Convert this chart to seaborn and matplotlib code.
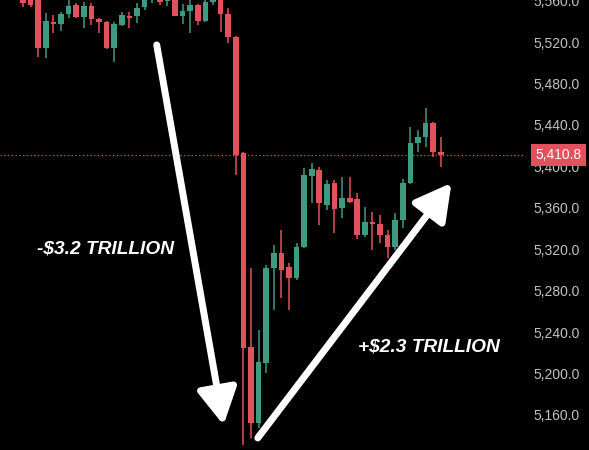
import matplotlib
matplotlib.use('Agg')
import matplotlib.pyplot as plt
import matplotlib.ticker as mticker
import numpy as np
import pandas as pd
import seaborn as sns

# OHLC candles (S&P 500 futures style prices)
opens = [5575.0, 5563.5, 5562.0, 5514.3, 5539.7, 5537.4, 5547.1, 5555.8, 5544.2, 5554.8,
         5542.3, 5539.4, 5514.3, 5536.5, 5545.2, 5545.2, 5553.8, 5563.5, 5563.5, 5559.6,
         5563.5, 5545.2, 5550.0, 5555.8, 5540.3, 5558.7, 5561.6, 5547.1, 5524.9, 5412.9,
         5225.6, 5152.3, 5210.2, 5301.9, 5316.4, 5302.9, 5292.2, 5322.2, 5390.7, 5396.5,
         5362.7, 5384.0, 5359.8, 5369.5, 5368.5, 5333.8, 5346.3, 5344.4, 5333.8, 5322.2,
         5348.2, 5384.0, 5422.6, 5428.4, 5441.9, 5413.9]
highs = [5580.0, 5568.0, 5565.0, 5548.0, 5546.1, 5549.0, 5560.6, 5557.7, 5558.7, 5557.7,
         5542.8, 5540.3, 5539.4, 5549.0, 5549.0, 5557.7, 5565.4, 5579.9, 5568.3, 5565.4,
         5565.4, 5556.7, 5560.6, 5556.7, 5560.6, 5564.5, 5563.5, 5552.9, 5525.5, 5413.9,
         5301.9, 5242.1, 5304.8, 5324.1, 5338.6, 5306.7, 5326.0, 5398.4, 5403.3, 5399.4,
         5386.8, 5386.8, 5389.7, 5389.7, 5374.3, 5360.8, 5356.0, 5353.1, 5338.6, 5355.0,
         5387.8, 5438.0, 5435.1, 5456.3, 5442.5, 5428.4]
lows = [5554.0, 5554.0, 5505.6, 5504.6, 5528.7, 5530.7, 5543.2, 5543.2, 5533.6, 5536.5,
        5528.7, 5513.5, 5500.8, 5535.5, 5533.6, 5538.4, 5551.0, 5557.7, 5555.8, 5554.8,
        5545.0, 5537.4, 5528.7, 5536.5, 5539.4, 5555.8, 5529.7, 5519.1, 5391.7, 5131.0,
        5137.8, 5147.5, 5200.5, 5261.4, 5272.9, 5261.4, 5290.3, 5321.5, 5364.6, 5343.4,
        5357.9, 5335.7, 5350.2, 5364.6, 5329.9, 5331.8, 5319.3, 5326.0, 5311.6, 5319.3,
        5340.5, 5383.0, 5413.9, 5418.7, 5409.0, 5399.4]
closes = [5558.0, 5555.8, 5514.3, 5540.3, 5537.4, 5547.1, 5554.8, 5544.2, 5554.8, 5542.3,
          5539.4, 5514.3, 5537.4, 5546.1, 5543.2, 5552.9, 5562.5, 5575.1, 5558.7, 5562.5,
          5545.2, 5550.0, 5555.8, 5540.3, 5558.7, 5561.6, 5547.1, 5524.9, 5411.0, 5224.7,
          5152.3, 5211.2, 5301.9, 5316.4, 5300.0, 5292.2, 5322.2, 5391.7, 5397.5, 5364.6,
          5383.0, 5358.9, 5369.5, 5365.6, 5333.8, 5346.3, 5344.4, 5333.8, 5322.2, 5348.2,
          5384.0, 5422.6, 5428.4, 5441.9, 5413.9, 5410.8]

last_price = 5410.8
price_ticks = [5160, 5200, 5240, 5280, 5320, 5360, 5400, 5440, 5480, 5520, 5560]

drop_label = '-$3.2 TRILLION'
rise_label = '+$2.3 TRILLION'

up_color = '#3f9a82'
down_color = '#e2525d'

df = pd.DataFrame({'open': opens, 'high': highs, 'low': lows, 'close': closes})
df['bar'] = np.arange(len(df))
df['up'] = df['close'] >= df['open']
df['color'] = np.where(df['up'], up_color, down_color)

sns.set_theme(style='dark', rc={'axes.facecolor': 'black', 'figure.facecolor': 'black'})
plt.rcParams['font.family'] = ['Liberation Sans', 'DejaVu Sans']

fig = plt.figure(figsize=(5.89, 4.5), dpi=100)
ax = fig.add_axes([0, 0, 1, 1])
ax.set_facecolor('black')

# wicks then bodies
ax.vlines(df['bar'], df['low'], df['high'], colors=df['color'], linewidth=1.1, zorder=2)
body_low = df[['open', 'close']].min(axis=1)
body_h = (df['close'] - df['open']).abs().clip(lower=1.6)
ax.bar(df['bar'], body_h, bottom=body_low, width=0.74, color=df['color'], linewidth=0, zorder=3)

# last price line and tag
ax.axhline(last_price, xmin=0, xmax=0.89, color=down_color, linestyle=(0, (1, 2)), linewidth=0.9, zorder=1)
ax.text(1.0 - 0.013, last_price, f'{last_price:,.1f}', transform=ax.get_yaxis_transform(),
        ha='right', va='center', color='white', fontsize=10, zorder=6,
        bbox=dict(boxstyle='square,pad=0.3', fc=down_color, ec='none'))

ax.set_xlim(-3.03, 74.5)
ax.set_ylim(5126.2, 5560.6)

ax.yaxis.tick_right()
ax.set_yticks(price_ticks)
ax.yaxis.set_major_formatter(mticker.FuncFormatter(lambda v, p: f'{v:,.1f}'))
ax.tick_params(axis='y', length=0, pad=-40.3, labelcolor='#c2c2c2', labelsize=10)
ax.set_xticks([])
for s in ax.spines.values():
    s.set_visible(False)
ax.grid(False)

# annotation arrows
arrow = dict(arrowstyle='-|>,head_length=1.0,head_width=0.55', color='white', lw=5,
             mutation_scale=22, shrinkA=0, shrinkB=0)
ax.annotate('', xy=(26.4, 5150.3), xytext=(17.6, 5517.2), arrowprops=arrow, zorder=5)
ax.annotate('', xy=(56.4, 5384.0), xytext=(30.9, 5137.8), arrowprops=arrow, zorder=5)

ax.text(1.85, 5320.5, drop_label, color='white', fontsize=13.8, fontweight='bold',
        fontstyle='italic', va='center', ha='left', zorder=6)
ax.text(44.1, 5226.0, rise_label, color='white', fontsize=13.8, fontweight='bold',
        fontstyle='italic', va='center', ha='left', zorder=6)

fig.savefig('out.png', dpi=100, facecolor='black')
